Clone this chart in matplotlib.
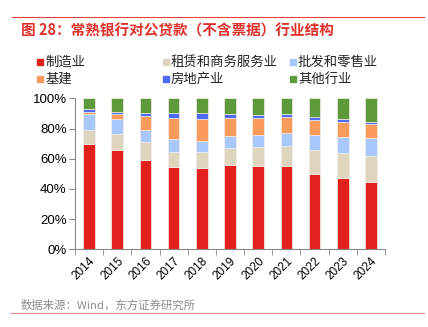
import numpy as np
import matplotlib.pyplot as plt
from matplotlib.lines import Line2D

plt.rcParams['font.family'] = ['Noto Sans CJK SC', 'DejaVu Sans']

years = ['2014', '2015', '2016', '2017', '2018', '2019', '2020', '2021', '2022', '2023', '2024']
manufacturing = [69.5, 65.8, 58.9, 54.5, 53.9, 55.8, 55.4, 55.4, 49.9, 47.5, 44.6]
leasing = [9.5, 10.6, 12.0, 10.2, 10.6, 11.3, 12.4, 13.0, 15.7, 16.1, 17.0]
wholesale = [10.4, 9.9, 8.3, 8.4, 7.2, 7.7, 8.1, 8.6, 9.9, 11.0, 12.4]
infra = [1.8, 3.3, 9.1, 13.9, 14.8, 12.4, 10.9, 10.9, 9.9, 9.7, 9.0]
realestate = [1.5, 1.3, 2.2, 3.1, 3.6, 2.6, 2.4, 2.0, 2.5, 2.0, 1.3]
others = [7.3, 9.1, 9.5, 9.9, 9.9, 10.2, 10.8, 10.1, 12.1, 13.7, 15.7]

names = ['制造业', '租赁和商务服务业', '批发和零售业', '基建', '房地产业', '其他行业']
series = [manufacturing, leasing, wholesale, infra, realestate, others]
colors = ['#E2211C', '#DED5BF', '#A8C8FB', '#FA9B5C', '#4F6AF6', '#5E9A3C']

fig = plt.figure(figsize=(4.28, 3.27), dpi=100)
ax = fig.add_axes([75 / 428, 1 - 249.3 / 327, 310 / 428, 151 / 327])

x = np.arange(len(years))
bottom = np.zeros(len(years))
for vals, c in zip(series, colors):
    v = np.array(vals, dtype=float)
    ax.bar(x, v, bottom=bottom, width=0.41, color=c, edgecolor='#F2EEE8', linewidth=0.5)
    bottom += v

ax.set_xlim(-0.5, len(years) - 0.5)
ax.set_ylim(0, 100)
ax.set_yticks(range(0, 101, 20))
ax.set_yticklabels([f'{t}%' for t in range(0, 101, 20)], fontsize=9.5, family=['Liberation Sans', 'DejaVu Sans'])
ax.set_xticks(x)
ax.set_xticklabels(years, rotation=45, fontsize=8.5, ha='right', rotation_mode='anchor',
                   family=['Liberation Sans', 'DejaVu Sans'])
ax.tick_params(axis='x', length=0, pad=4)
ax.set_xticks(np.arange(-0.5, len(years)), minor=True)
ax.tick_params(axis='x', which='minor', length=4, color='#888888')
ax.tick_params(axis='y', length=4, color='#888888', pad=2)
for s in ['top', 'right']:
    ax.spines[s].set_visible(False)
for s in ['left', 'bottom']:
    ax.spines[s].set_color('#888888')
    ax.spines[s].set_linewidth(0.8)

# header / footer
fig.add_artist(Line2D([12 / 428, 424 / 428], [1 - 17 / 327] * 2, color='#E8403A', lw=0.8))
fig.text(21 / 428, 1 - 30 / 327, '图 28：常熟银行对公贷款（不含票据）行业结构', color='#E0302A',
         fontsize=10.5, fontweight='bold', va='center')
fig.text(21 / 428, 1 - 305 / 327, '数据来源：Wind，东方证券研究所', color='#8C8C8C', fontsize=8.2, va='center')
fig.add_artist(Line2D([11 / 428, 424 / 428], [1 - 313 / 327] * 2, color='#F08A86', lw=0.8))

# legend
col_x = [40, 166, 293]
row_y = [62, 79]
for i, name in enumerate(names):
    r, c = divmod(i, 3)
    fig.patches.append(plt.Rectangle(((col_x[c] - 3) / 428, 1 - (row_y[r] + 3) / 327), 6 / 428, 6 / 327,
                                     color=colors[i], transform=fig.transFigure))
    fig.text((col_x[c] + 5) / 428, 1 - row_y[r] / 327, name, fontsize=9.6, va='center', color='#222222')

fig.savefig('out.png', dpi=100)
